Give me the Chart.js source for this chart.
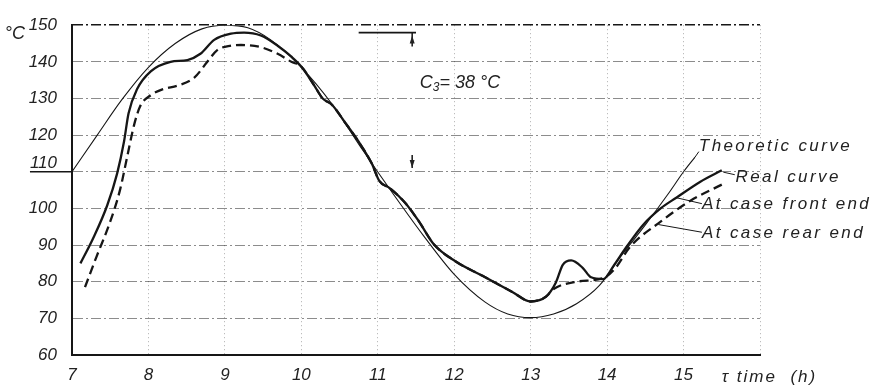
<!DOCTYPE html>
<html>
<head>
<meta charset="utf-8">
<script src="https://cdn.jsdelivr.net/npm/chart.js@4.4.1/dist/chart.umd.min.js"></script>
<style>
  html, body { margin: 0; padding: 0; background: #fff; }
  #wrap { width: 873px; height: 389px; position: relative; }
</style>
</head>
<body>
<div id="wrap"><canvas id="myChart"></canvas></div>
<script>
// hours on x, temperature (°C) on y
const xTicks = [7, 8, 9, 10, 11, 12, 13, 14, 15, 16];
const yTicks = [60, 70, 80, 90, 100, 110, 120, 130, 140, 150];

const theoHours = [7, 7.33, 7.65, 8.0, 8.35, 8.7, 9.0, 9.3, 9.6, 10.0, 10.4, 10.8, 11.2, 11.6, 12.0, 12.4, 12.7, 13.0, 13.3, 13.6, 13.9, 14.2, 14.5, 14.8, 15.0, 15.15];
const theoTemps = [110, 120, 129.6, 138.5, 145, 149, 150, 149.3, 146, 138.5, 128.5, 116, 104, 92.5, 82, 74.5, 71.2, 70.2, 71.2, 74, 79, 87.5, 95.5, 104, 110, 114];

const frontHours = [7.11, 7.28, 7.46, 7.59, 7.68, 7.74, 7.85, 8.03, 8.29, 8.51, 8.68, 8.86, 9.08, 9.25, 9.47, 9.69, 9.87, 10.0, 10.17, 10.28, 10.4, 10.57, 10.75, 10.92, 11.02, 11.16, 11.36, 11.54, 11.73, 12.02, 12.37, 12.76, 13.0, 13.2, 13.33, 13.42, 13.53, 13.68, 13.79, 13.95, 14.08, 14.25, 14.47, 14.7, 14.91, 15.22, 15.5];
const frontTemps = [85, 92, 100.8, 109.5, 118.2, 126, 132.5, 137.4, 140, 140.5, 142.2, 146, 147.7, 148, 147.2, 144.4, 141.4, 138.7, 133.5, 130, 128.3, 123.5, 118.2, 112.3, 107.5, 105.5, 101.5, 96.4, 90.3, 85.5, 81.6, 77.2, 74.6, 75.9, 79.8, 84.6, 85.8, 83.8, 81.2, 80.7, 84.2, 89.4, 95.5, 100, 103, 107.3, 110.4];

const rearHours = [7.17, 7.32, 7.5, 7.63, 7.72, 7.81, 7.89, 8.03, 8.2, 8.38, 8.6, 8.77, 8.9, 9.08, 9.21, 9.47, 9.69, 9.87, 10.0, 10.17, 10.28, 10.4, 10.57, 10.75, 10.92, 11.02, 11.16, 11.36, 11.54, 11.73, 12.02, 12.37, 12.76, 13.0, 13.2, 13.3, 13.6, 13.95, 14.1, 14.3, 14.7, 15.09, 15.5];
const rearTemps = [78.5, 86.8, 96.4, 105.2, 113.9, 122.6, 127.8, 130.9, 132.6, 133.5, 135.7, 140, 143.2, 144.4, 144.6, 144, 142.2, 140, 138.7, 133.5, 130, 128.3, 123.5, 118.2, 112.3, 107.5, 105.5, 101.5, 96.4, 90.3, 85.5, 81.6, 77.2, 74.6, 75.9, 78, 80, 81, 83.5, 89.5, 96.4, 102.1, 106.5];

const toPoints = (xs, ys) => xs.map((x, i) => ({ x: x, y: ys[i] }));

const ink = '#161616';
const font = 'Liberation Sans, Arial, sans-serif';

// labels and leaders, in data units
const notes = [
  { text: 'Theoretic curve', x: 15.2, y: 117, from: [15.2, 115.5], to: [15.15, 114] },
  { text: 'Real curve', x: 15.68, y: 108.6, from: [15.67, 109.2], to: [15.52, 109.9] },
  { text: 'At case front end', x: 15.24, y: 101, from: [15.24, 101.3], to: [14.91, 102.9] },
  { text: 'At case rear end', x: 15.24, y: 93.2, from: [15.24, 93.5], to: [14.67, 95.6] }
];

const extras = {
  id: 'extras',
  afterDatasetsDraw(chart) {
    const { ctx, scales: { x, y } } = chart;
    const px = v => x.getPixelForValue(v);
    const py = v => y.getPixelForValue(v);
    ctx.save();
    ctx.strokeStyle = ink;
    ctx.fillStyle = '#222';

    // 110 line runs out past the axis, its label sits above it
    ctx.lineWidth = 1.5;
    ctx.beginPath();
    ctx.moveTo(px(6.45), py(110));
    ctx.lineTo(px(7), py(110));
    ctx.stroke();
    ctx.font = 'italic 17px ' + font;
    ctx.textAlign = 'right';
    ctx.textBaseline = 'middle';
    ctx.fillText('110', px(7) - 15, py(110) - 9);

    // C3 dimension
    ctx.lineWidth = 1.8;
    ctx.beginPath();
    ctx.moveTo(px(10.75), py(148));
    ctx.lineTo(px(11.5), py(148));
    ctx.stroke();
    const ax = px(11.45);
    ctx.lineWidth = 1.5;
    ctx.beginPath();
    ctx.moveTo(ax, py(148));
    ctx.lineTo(ax, py(148) + 14);
    ctx.moveTo(ax, py(111) - 13);
    ctx.lineTo(ax, py(111));
    ctx.stroke();
    ctx.beginPath();
    ctx.moveTo(ax, py(148) + 3);
    ctx.lineTo(ax - 2.5, py(148) + 11);
    ctx.lineTo(ax + 2.5, py(148) + 11);
    ctx.closePath();
    ctx.moveTo(ax, py(111));
    ctx.lineTo(ax - 2.5, py(111) - 8);
    ctx.lineTo(ax + 2.5, py(111) - 8);
    ctx.closePath();
    ctx.fill();

    ctx.textAlign = 'left';
    let cx = px(11.55);
    const cy = py(134.3);
    ctx.font = 'italic 18px ' + font;
    ctx.fillText('C', cx, cy);
    cx += ctx.measureText('C').width;
    ctx.font = 'italic 12px ' + font;
    ctx.fillText('3', cx, cy + 5);
    cx += ctx.measureText('3').width;
    ctx.font = 'italic 18px ' + font;
    ctx.fillText('= 38 °C', cx, cy);

    // unit + axis title
    ctx.fillText('°C', px(6.12), py(147.5));
    ctx.font = 'italic 17px ' + font;
    ctx.letterSpacing = '2px';
    ctx.fillText('τ time  (h)', px(15.5), py(54));

    // curve names
    ctx.lineWidth = 1;
    ctx.letterSpacing = '2.4px';
    notes.forEach(n => {
      ctx.fillText(n.text, px(n.x), py(n.y));
      ctx.beginPath();
      ctx.moveTo(px(n.from[0]), py(n.from[1]));
      ctx.lineTo(px(n.to[0]), py(n.to[1]));
      ctx.stroke();
    });
    ctx.restore();
  }
};

new Chart(document.getElementById('myChart'), {
  type: 'line',
  data: {
    datasets: [
      {
        label: 'Theoretic curve',
        data: toPoints(theoHours, theoTemps),
        borderColor: ink,
        borderWidth: 1.1,
        pointRadius: 0,
        cubicInterpolationMode: 'monotone'
      },
      {
        label: 'At case front end',
        data: toPoints(frontHours, frontTemps),
        borderColor: ink,
        borderWidth: 2.3,
        pointRadius: 0,
        cubicInterpolationMode: 'monotone'
      },
      {
        label: 'At case rear end',
        data: toPoints(rearHours, rearTemps),
        borderColor: ink,
        borderWidth: 2.3,
        borderDash: [9, 5],
        pointRadius: 0,
        cubicInterpolationMode: 'monotone'
      }
    ]
  },
  options: {
    responsive: true,
    maintainAspectRatio: false,
    animation: false,
    layout: { padding: { top: 12, right: 113, left: 0, bottom: 0 } },
    plugins: { legend: { display: false }, tooltip: { enabled: false } },
    scales: {
      x: {
        type: 'linear',
        min: 7,
        max: 16,
        afterBuildTicks: s => { s.ticks = xTicks.map(v => ({ value: v })); },
        afterFit: s => { s.height = 34; },
        ticks: {
          callback: v => (v === 16 ? '' : v),
          font: { family: font, size: 17, style: 'italic' },
          color: '#222',
          padding: 10,
          maxRotation: 0
        },
        grid: { color: 'rgba(0,0,0,0.32)', lineWidth: 1, drawTicks: false },
        border: { display: true, color: ink, width: 2, dash: [1, 3] }
      },
      y: {
        min: 60,
        max: 150,
        afterBuildTicks: s => { s.ticks = yTicks.map(v => ({ value: v })); },
        afterFit: s => { s.width = 72; },
        ticks: {
          callback: v => (v === 110 ? '' : v),
          font: { family: font, size: 17, style: 'italic' },
          color: '#222',
          padding: 15
        },
        grid: {
          color: c => (c.tick && c.tick.value === 150 ? ink : 'rgba(0,0,0,0.45)'),
          lineWidth: c => (c.tick && c.tick.value === 150 ? 1.6 : 1),
          drawTicks: false
        },
        border: { display: true, color: ink, width: 2, dash: [10, 3, 2, 3] }
      }
    }
  },
  plugins: [extras]
});
</script>
</body>
</html>
